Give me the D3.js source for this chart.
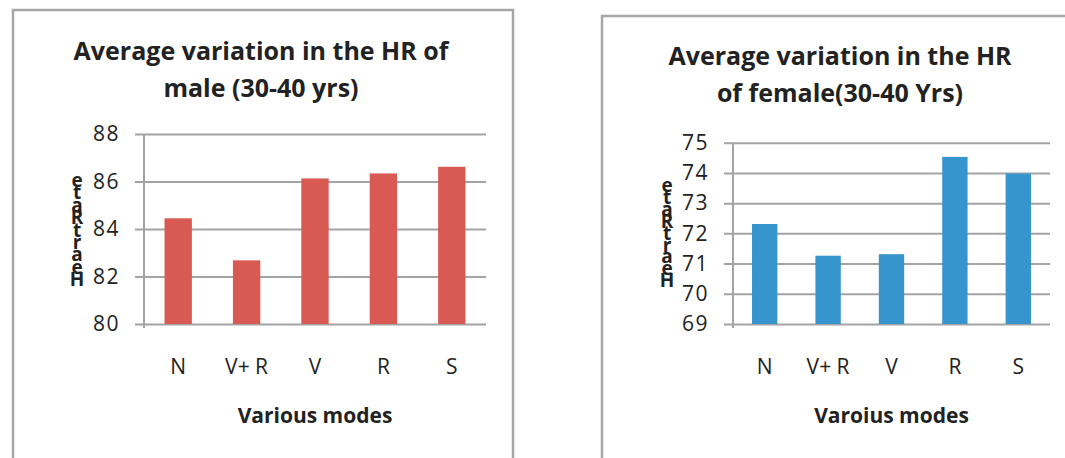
<!DOCTYPE html>
<html>
<head>
<meta charset="utf-8">
<script src="https://cdn.jsdelivr.net/npm/d3@7"></script>
<style>
  body { margin: 0; background: #fff; }
  svg text { font-family: "Open Sans", "Noto Sans", sans-serif; fill: #222; }
</style>
</head>
<body>
<svg id="chart" width="1065" height="458"></svg>
<script>
// data
var modes = ["N", "V+ R", "V", "R", "S"];
var maleHR = [84.45, 82.68, 86.13, 86.34, 86.62];
var femaleHR = [72.31, 71.26, 71.31, 74.53, 73.98];
var maleTicks = [80, 82, 84, 86, 88];
var femaleTicks = [69, 70, 71, 72, 73, 74, 75];
var maleTitle = ["Average variation in the HR of", "male (30-40 yrs)"];
var femaleTitle = ["Average variation in the HR", "of female(30-40 Yrs)"];
var maleXTitle = "Various modes";
var femaleXTitle = "Varoius modes";
var yLabel = "HeartRate";

var svg = d3.select("#chart");

var makeChart = function(opt) {
  // outer frame
  svg.append("rect")
    .attr("x", opt.frame[0]).attr("y", opt.frame[1])
    .attr("width", opt.frame[2]).attr("height", opt.frame[3])
    .attr("fill", "none").attr("stroke", "#a6a6a6").attr("stroke-width", 2.5);

  var g = svg.append("g");

  var x = d3.scaleBand()
      .domain(modes)
      .range([opt.left, opt.right])
      .paddingInner(0.6).paddingOuter(0.3);

  var y = d3.scaleLinear()
      .domain(d3.extent(opt.ticks))
      .range([opt.bottom, opt.top]);

  // gridlines + tick labels
  var yAxis = d3.axisLeft(y)
      .tickValues(opt.ticks)
      .tickFormat(d3.format("d"))
      .tickSize(-(opt.right - opt.left))
      .tickPadding(0);

  var ya = g.append("g")
      .attr("transform", "translate(" + opt.left + ",0)")
      .call(yAxis);
  ya.select(".domain").remove();
  ya.selectAll(".tick line")
      .attr("x1", -9)
      .attr("stroke", "#a3a3a3").attr("stroke-width", 2);
  ya.selectAll(".tick text")
      .attr("x", -24)
      .style("font-size", "21px").style("letter-spacing", "1.5px")
      .style("font-family", "\"Open Sans\", sans-serif")
      .attr("fill", "#222");

  // vertical axis line
  g.append("line")
    .attr("x1", opt.left).attr("x2", opt.left)
    .attr("y1", opt.top).attr("y2", opt.bottom + 4)
    .attr("stroke", "#a3a3a3").attr("stroke-width", 2);

  g.selectAll("rect.bar")
    .data(opt.values)
    .enter().append("rect")
      .attr("class", "bar")
      .attr("x", function(d, i) { return x(modes[i]); })
      .attr("width", x.bandwidth())
      .attr("y", function(d) { return y(d); })
      .attr("height", function(d) { return y(y.domain()[0]) - y(d); })
      .attr("fill", opt.color);

  // category labels
  g.selectAll("text.cat")
    .data(modes)
    .enter().append("text")
      .attr("class", "cat")
      .attr("x", function(d) { return x(d) + x.bandwidth() / 2; })
      .attr("y", opt.bottom + 50)
      .attr("text-anchor", "middle")
      .style("font-size", "21px")
      .text(function(d) { return d; });

  // x axis title
  g.append("text")
    .attr("x", (opt.left + opt.right) / 2)
    .attr("y", opt.bottom + 99)
    .attr("text-anchor", "middle")
    .style("font-size", "21px").style("font-weight", "bold")
    .text(opt.xTitle);

  // chart title, two lines
  g.selectAll("text.title")
    .data(opt.title)
    .enter().append("text")
      .attr("class", "title")
      .attr("x", opt.titleX)
      .attr("y", function(d, i) { return opt.titleY + i * 37; })
      .attr("text-anchor", "middle")
      .style("font-size", "25px").style("font-weight", "bold")
      .text(function(d) { return d; });

  // y label: letters stacked upright, read bottom to top (squashed like the original)
  var letters = yLabel.split("").reverse();
  g.append("text")
    .attr("class", "ylab")
    .attr("text-anchor", "middle")
    .style("font-size", "19px").style("font-weight", "bold")
    .selectAll("tspan")
    .data(letters)
    .enter().append("tspan")
      .attr("x", opt.yLabX)
      .attr("y", function(d, i) { return opt.yLabTop + i * opt.yLabStep; })
      .text(function(d) { return d; });
};

makeChart({
  values: maleHR, ticks: maleTicks, title: maleTitle, xTitle: maleXTitle,
  color: "#d85a52",
  frame: [13, 10, 500, 470],
  left: 144, right: 486, top: 134, bottom: 324,
  titleX: 261, titleY: 60,
  yLabX: 77, yLabTop: 187, yLabStep: 12.4
});

makeChart({
  values: femaleHR, ticks: femaleTicks, title: femaleTitle, xTitle: femaleXTitle,
  color: "#3795cd",
  frame: [602, 16, 480, 470],
  left: 733, right: 1050, top: 142.7, bottom: 324,
  titleX: 840, titleY: 65,
  yLabX: 667, yLabTop: 192, yLabStep: 11.9
});
</script>
</body>
</html>
